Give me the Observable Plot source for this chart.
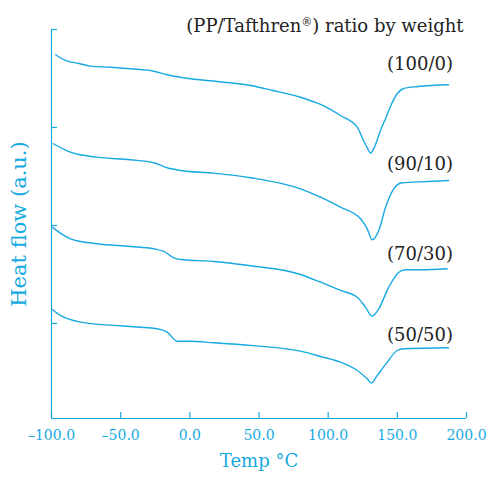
<!DOCTYPE html>
<html>
<head>
<meta charset="utf-8">
<script src="https://cdn.jsdelivr.net/npm/d3@7"></script>
<script src="https://cdn.jsdelivr.net/npm/@observablehq/plot@0.6"></script>
<style>
  html, body { margin: 0; padding: 0; background: #fff; }
</style>
</head>
<body>
<div id="chart"></div>
<script>
const cyan = "#17a9e1";

const seriesNames = ["(100/0)", "(90/10)", "(70/30)", "(50/50)"];

const temp100_0 = [-97, -90, -80, -72, -57, -43, -26, -16.4, 0.5, 19.8, 43.9, 60, 80, 94.5, 108.9, 121, 125.5, 128.5, 130.6, 133, 137.8, 141.5, 145, 149.9, 154.5, 165, 187];
const flow100_0 = [2.742, 2.684, 2.653, 2.626, 2.615, 2.599, 2.574, 2.538, 2.497, 2.469, 2.429, 2.378, 2.309, 2.235, 2.122, 2.003, 1.867, 1.786, 1.738, 1.786, 1.969, 2.092, 2.214, 2.344, 2.398, 2.418, 2.436];

const temp90_10 = [-98.7, -86.3, -67, -42.9, -26, -16.4, -6.7, 17.3, 43.9, 80, 94.5, 108.9, 123.4, 128.2, 131.8, 136.6, 141.5, 147.4, 153.5, 166.7, 187];
const flow90_10 = [1.834, 1.748, 1.697, 1.670, 1.640, 1.589, 1.561, 1.534, 1.487, 1.374, 1.289, 1.187, 1.068, 0.966, 0.854, 0.949, 1.187, 1.374, 1.436, 1.445, 1.459];

const temp70_30 = [-99.5, -86.3, -67, -42.9, -26, -18.8, -11.6, -6.7, 17.3, 43.9, 80, 94.5, 108.9, 121, 127, 131.8, 136.6, 143.8, 151.1, 155.9, 166.7, 186];
const flow70_30 = [0.983, 0.864, 0.813, 0.786, 0.762, 0.735, 0.670, 0.653, 0.633, 0.589, 0.500, 0.421, 0.337, 0.268, 0.166, 0.074, 0.150, 0.370, 0.523, 0.548, 0.548, 0.558];

const temp50_50 = [-99.5, -93.5, -79, -55.2, -42.9, -23.6, -16.4, -9.1, 0.5, 17.3, 43.9, 80, 94.5, 108.9, 121, 128.2, 131.3, 135, 141.5, 149.9, 154.5, 187];
const flow50_50 = [0.143, 0.082, 0.013, -0.020, -0.031, -0.054, -0.089, -0.181, -0.181, -0.197, -0.224, -0.283, -0.337, -0.395, -0.480, -0.564, -0.609, -0.540, -0.418, -0.276, -0.258, -0.248];

const labelTemp = [166.4, 166.4, 166.4, 166.4];
const labelFlow = [2.648, 1.628, 0.709, -0.122];

const xTicks = [-100, -50, 0, 50, 100, 150, 200];
const yTicks = [0, 1, 2, 3];
const yDomain = [-0.97, 3];

const titleText = "(PP/Tafthren®) ratio by weight";
const xLabel = "Temp °C";
const yLabel = "Heat flow (a.u.)";

const temps = [temp100_0, temp90_10, temp70_30, temp50_50];
const flows = [flow100_0, flow90_10, flow70_30, flow50_50];
const rows = [];
seriesNames.forEach((s, i) => {
  temps[i].forEach((t, j) => rows.push({series: s, temp: t, flow: flows[i][j]}));
});
const labels = seriesNames.map((s, i) => ({text: s, temp: labelTemp[i], flow: labelFlow[i]}));

const fmt = d => (d < 0 ? "\u2013" : "") + Math.abs(d).toFixed(1);

const chart = Plot.plot({
  width: 489,
  height: 479,
  marginLeft: 51,
  marginRight: 23,
  marginTop: 29,
  marginBottom: 61,
  style: {fontFamily: "DejaVu Serif", background: "white", overflow: "visible"},
  x: {domain: [-100, 200]},
  y: {domain: yDomain},
  marks: [
    Plot.ruleX([-100], {stroke: cyan, strokeWidth: 1.2}),
    Plot.ruleY([yDomain[0]], {stroke: cyan, strokeWidth: 1.2}),
    Plot.axisX({ticks: xTicks, tickSize: 6, dy: -6, tickFormat: () => "", label: null, stroke: cyan, strokeWidth: 1.2}),
    Plot.axisX({ticks: xTicks, tickSize: 0, tickPadding: 12, tickFormat: fmt, label: null, fill: cyan, fontSize: 14}),
    Plot.axisY({ticks: yTicks, tickSize: 6, dx: 6, tickFormat: () => "", label: null, stroke: cyan, strokeWidth: 1.2}),
    Plot.line(rows, {x: "temp", y: "flow", z: "series", stroke: cyan, strokeWidth: 1.4, curve: "monotone-x"}),
    Plot.text(labels, {x: "temp", y: "flow", text: "text", fill: "#222", fontSize: 18}),
    Plot.text([titleText], {frameAnchor: "top-right", textAnchor: "end", dx: -3, dy: -10.5, fill: "#222", fontSize: 18}),
    Plot.text([xLabel], {frameAnchor: "bottom", dy: 48, fill: cyan, fontSize: 18}),
    Plot.text([yLabel], {frameAnchor: "left", textAnchor: "middle", rotate: -90, dx: -32, fill: cyan, fontSize: 21})
  ]
});

document.getElementById("chart").appendChild(chart);

// superscript the registered sign in the title
d3.select(chart).selectAll("text").each(function() {
  const el = d3.select(this);
  if (el.text() === titleText) {
    const parts = titleText.split("®");
    el.text(null);
    el.append("tspan").text(parts[0]);
    el.append("tspan").attr("font-size", "11").attr("baseline-shift", "super").text("®");
    el.append("tspan").text(parts[1]);
  }
});
</script>
</body>
</html>
